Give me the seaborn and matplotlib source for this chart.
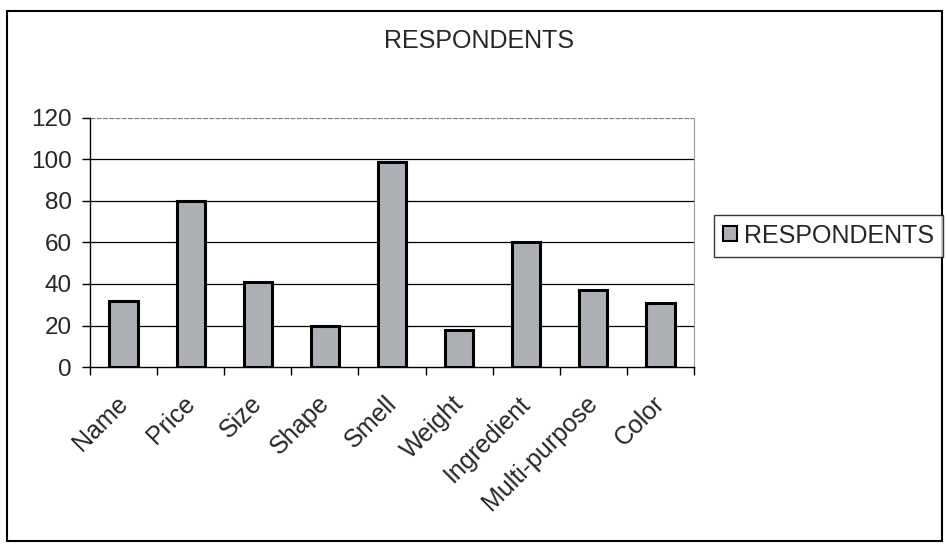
import matplotlib
matplotlib.use("Agg")
import matplotlib.pyplot as plt
import matplotlib.transforms as mtransforms
import seaborn as sns
import pandas as pd
from matplotlib.patches import Patch, Rectangle

categories = ["Name", "Price", "Size", "Shape", "Smell", "Weight", "Ingredient", "Multi-purpose", "Color"]
respondents = [32, 80, 41, 20, 99, 18, 60, 37, 31]
series_name = "RESPONDENTS"
yticks = [0, 20, 40, 60, 80, 100, 120]

sns.set_theme(style="white")
plt.rcParams["font.family"] = ["Liberation Sans", "DejaVu Sans"]

df = pd.DataFrame({"category": categories, "value": respondents})

W, H = 947, 545
fig = plt.figure(figsize=(W / 100, H / 100), dpi=100)
fig.patch.set_facecolor("white")
ax = fig.add_axes([90 / W, 1 - 367 / H, (694 - 90) / W, (367 - 118) / H])

bar_color = "#adb0b4"
sns.barplot(data=df, x="category", y="value", color=bar_color, edgecolor="black",
            linewidth=2.2, width=0.42, ax=ax, saturation=1)

ax.set_ylim(0, 120)
ax.set_xlim(-0.5, len(categories) - 0.5)
ax.set_yticks(yticks)
ax.set_yticklabels([str(t) for t in yticks], fontsize=17.5)
ax.set_xlabel("")
ax.set_ylabel("")

# gridlines
for t in yticks[1:-1]:
    ax.axhline(t, color="black", lw=0.9, zorder=0)
ax.axhline(120, color="#808080", lw=0.9, ls=(0, (4, 1)), zorder=0)

# x ticks at category boundaries
ax.set_xticks([i - 0.5 for i in range(len(categories) + 1)], minor=True)
ax.set_xticks(range(len(categories)))
ax.set_xticklabels(categories, rotation=45, ha="right", rotation_mode="anchor", fontsize=18)
ax.tick_params(axis="x", which="major", length=0, pad=6)
ax.tick_params(axis="x", which="minor", length=6, width=1, color="black", direction="out", bottom=True)
ax.tick_params(axis="y", length=6, width=1, color="black", direction="out", left=True, pad=7)

offset = mtransforms.ScaledTranslation(-8 / 100, -16 / 100, fig.dpi_scale_trans)
for lab in ax.get_xticklabels():
    lab.set_transform(lab.get_transform() + offset)

for s in ["left", "bottom"]:
    ax.spines[s].set_color("black")
    ax.spines[s].set_linewidth(1.0)
ax.spines["right"].set_color("#9a9a9a")
ax.spines["right"].set_linestyle((0, (2, 1)))
ax.spines["right"].set_linewidth(0.8)
ax.spines["top"].set_visible(False)

fig.text(479.5 / W, 1 - 48 / H, series_name, ha="center", va="baseline", fontsize=18)

handle = Patch(facecolor=bar_color, edgecolor="black", linewidth=1.5, label=series_name)
leg = fig.legend(handles=[handle], loc="upper left", bbox_to_anchor=(714 / W, 1 - 215 / H),
                 fontsize=18, frameon=True, fancybox=False, edgecolor="black",
                 handlelength=0.55, handleheight=0.55, handletextpad=0.3, borderpad=0.35,
                 borderaxespad=0)
leg.get_frame().set_linewidth(1.0)

fig.patches.append(Rectangle((7 / W, 1 - 541 / H), (942 - 7) / W, (541 - 11) / H,
                             transform=fig.transFigure, fill=False, edgecolor="black", lw=1.5))

fig.savefig("out.png", dpi=100)
